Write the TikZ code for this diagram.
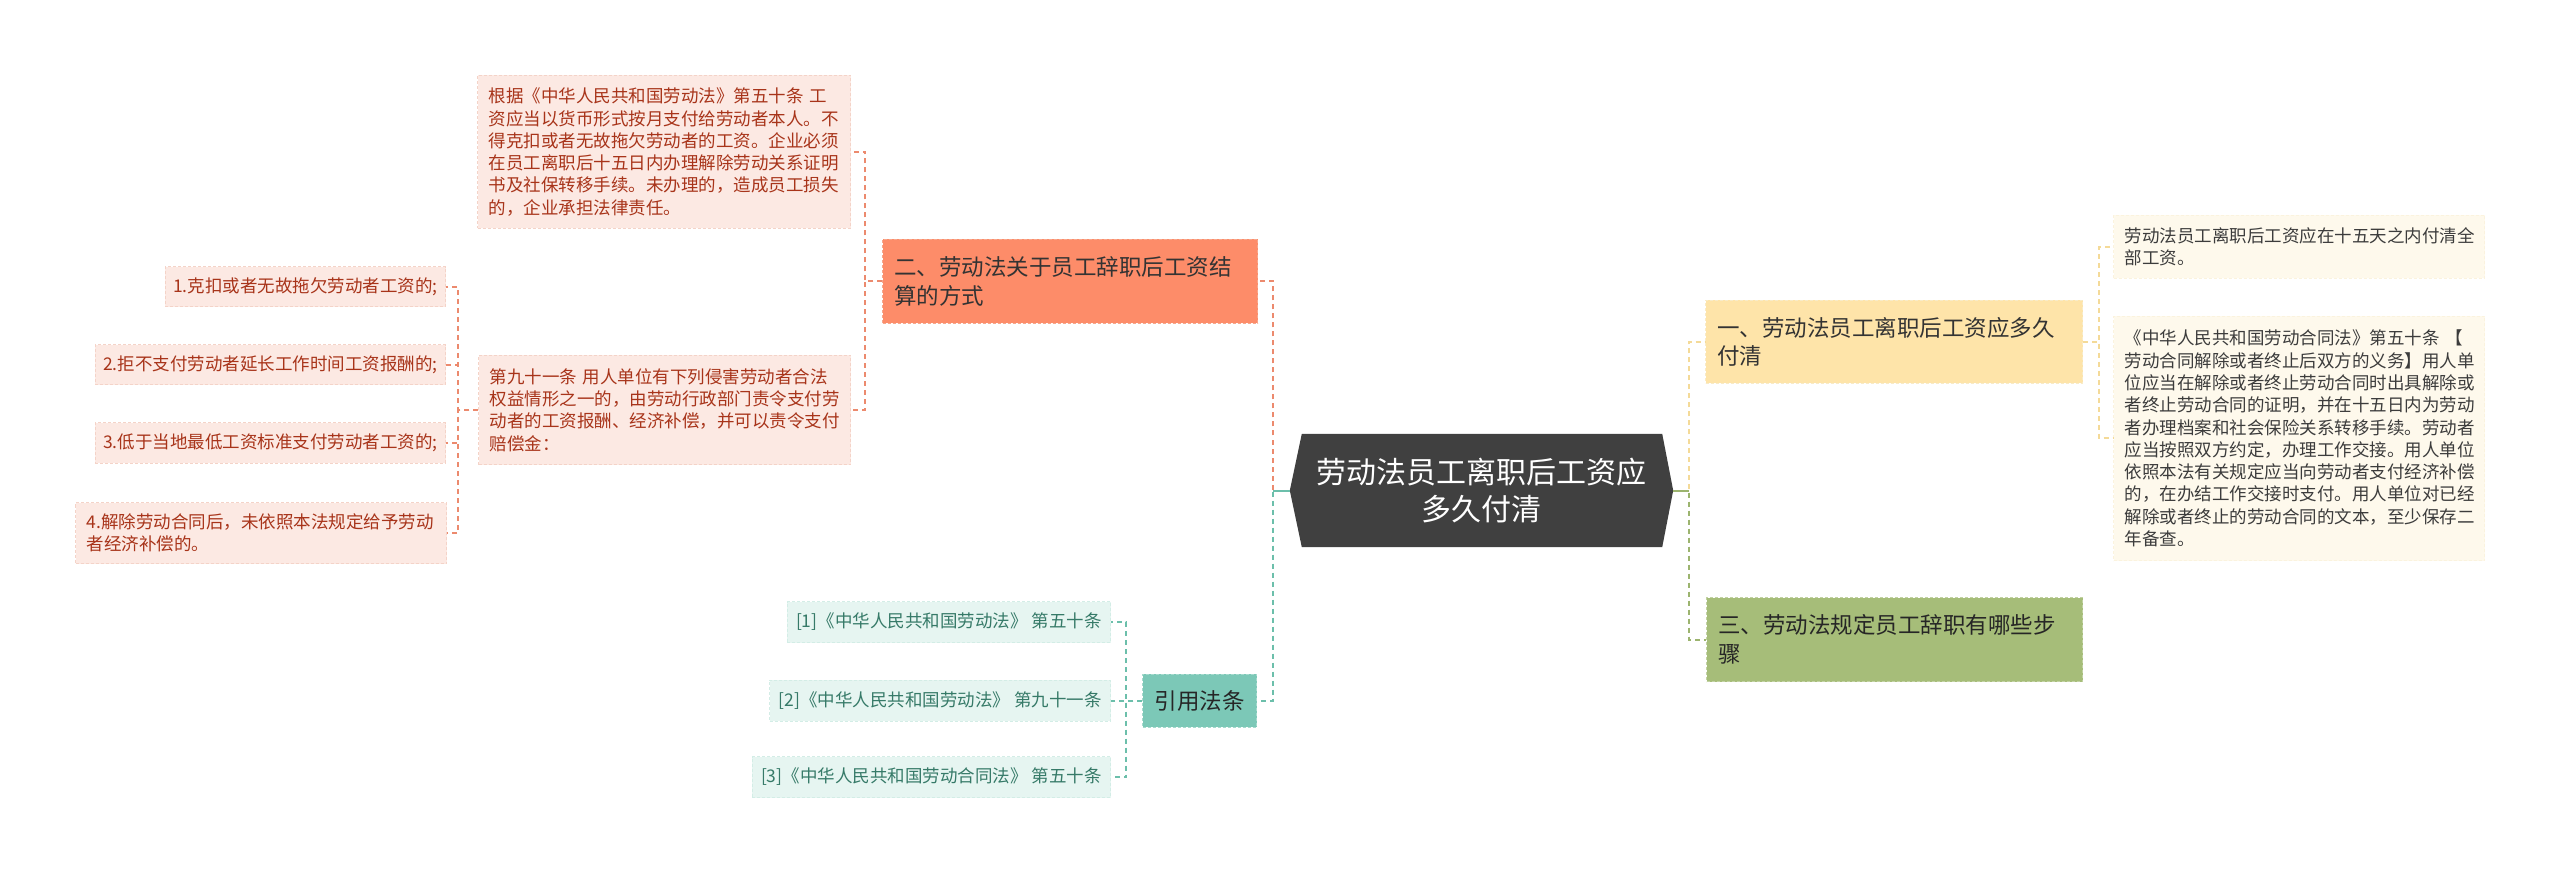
\documentclass[tikz,border=0pt]{standalone}
\usepackage{fontspec}
\setmainfont{Noto Sans CJK SC}
\usetikzlibrary{calc}
\pgfdeclarelayer{bg}
\pgfsetlayers{bg,main}
\definecolor{pinkfill}{HTML}{FCE9E3}
\definecolor{pinkedge}{HTML}{F4D3C8}
\definecolor{pinktext}{HTML}{A8341A}
\definecolor{orangefill}{HTML}{FD8C69}
\definecolor{orangeedge}{HTML}{F6A78D}
\definecolor{orangeline}{HTML}{EC8A6E}
\definecolor{yellowfill}{HTML}{FEE4A9}
\definecolor{yellowedge}{HTML}{F8EBC8}
\definecolor{yellowline}{HTML}{F4DA98}
\definecolor{creamfill}{HTML}{FEF9EC}
\definecolor{creamedge}{HTML}{FBF3DE}
\definecolor{creamtext}{HTML}{3C3C3C}
\definecolor{greenfill}{HTML}{A6BD79}
\definecolor{greenedge}{HTML}{C2D2A3}
\definecolor{greenline}{HTML}{9CB46F}
\definecolor{tealfill}{HTML}{7CC8B7}
\definecolor{tealedge}{HTML}{A6DACD}
\definecolor{tealline}{HTML}{6CBFAB}
\definecolor{citefill}{HTML}{E6F5F1}
\definecolor{citeedge}{HTML}{D3EDE6}
\definecolor{citetext}{HTML}{367A68}
\definecolor{rootfill}{HTML}{404040}
\newcommand{\smallfnt}{\fontsize{17.5}{22.3}\selectfont}
\newcommand{\headfnt}{\fontsize{22.5}{28.5}\selectfont}
\newcommand{\rootfnt}{\fontsize{30}{37}\selectfont}
\tikzset{
  boxbase/.style={line width=1pt, dash pattern=on 3pt off 2pt, inner ysep=0pt},
  sized/.style n args={3}{minimum width=#1pt, minimum height=#2pt, text width=#3pt, anchor=north west, align=left},
  pinkbox/.style={boxbase, draw=pinkedge, fill=pinkfill, text=pinktext, font=\smallfnt, inner xsep=11pt},
  creambox/.style={boxbase, draw=creamedge, fill=creamfill, text=creamtext, font=\smallfnt, inner xsep=11pt},
  citebox/.style={boxbase, draw=citeedge, fill=citefill, text=citetext, font=\smallfnt, inner xsep=9pt, minimum height=41pt, anchor=east},
  itembox/.style={pinkbox, inner xsep=8pt, minimum height=40pt, anchor=east},
  headbox/.style={boxbase, font=\headfnt, inner xsep=11.5pt},
  link/.style={dash pattern=on 5pt off 4pt, line width=2pt},
  stub/.style={line width=2pt}
}
\begin{document}
\begin{tikzpicture}[x=1pt,y=-1pt]
\useasboundingbox (0,0) rectangle (2560,874);

% root
\node[font=\rootfnt, text=white, align=center, minimum width=383pt, minimum height=113pt, inner sep=0pt] (root) at (1481.5,490.5) {劳动法员工离职后工资应\\多久付清};
\begin{pgfonlayer}{bg}
\fill[white] (0,0) rectangle (2560,874);
\fill[rootfill] (root.west) -- ([xshift=12pt]root.north west) -- ([xshift=-11pt]root.north east) -- (root.east) -- ([xshift=-11pt]root.south east) -- ([xshift=12pt]root.south west) -- cycle;
\end{pgfonlayer}

% left branch 二
\node[headbox, draw=orangeedge, fill=orangefill, text=black!80, sized={375}{84}{352}] (n2) at (882,239) {二、劳动法关于员工辞职后工资结\\算的方式};
\node[pinkbox, sized={373}{153}{351}] (top) at (477,75) {根据《中华人民共和国劳动法》第五十条 工\\资应当以货币形式按月支付给劳动者本人。不\\得克扣或者无故拖欠劳动者的工资。企业必须\\在员工离职后十五日内办理解除劳动关系证明\\书及社保转移手续。未办理的，造成员工损失\\的，企业承担法律责任。};
\node[pinkbox, sized={372}{109}{350}] (n91) at (478,355) {第九十一条 用人单位有下列侵害劳动者合法\\权益情形之一的，由劳动行政部门责令支付劳\\动者的工资报酬、经济补偿，并可以责令支付\\赔偿金：};
\node[itembox] (i1) at (446,287) {1.克扣或者无故拖欠劳动者工资的;};
\node[itembox] (i2) at (446,365) {2.拒不支付劳动者延长工作时间工资报酬的;};
\node[itembox] (i3) at (446,443) {3.低于当地最低工资标准支付劳动者工资的;};
\node[pinkbox, sized={371}{61}{349}] (i4) at (75,502) {4.解除劳动合同后，未依照本法规定给予劳动\\者经济补偿的。};

% left branch 引用法条
\node[headbox, draw=tealedge, fill=tealfill, text=black!85, minimum height=53pt, inner xsep=12pt, anchor=east] (cite) at (1257,700.5) {引用法条};
\node[citebox] (c1) at (1111,622) {[1]《中华人民共和国劳动法》 第五十条};
\node[citebox] (c2) at (1111,700.5) {[2]《中华人民共和国劳动法》 第九十一条};
\node[citebox] (c3) at (1111,777) {[3]《中华人民共和国劳动合同法》 第五十条};

% right branch 一
\node[headbox, draw=yellowedge, fill=yellowfill, text=black!80, sized={377}{83}{354}] (n1) at (1705,300) {一、劳动法员工离职后工资应多久\\付清};
\node[creambox, sized={371}{63}{349}] (ca) at (2113,215) {劳动法员工离职后工资应在十五天之内付清全\\部工资。};
\node[creambox, sized={371}{244}{349}] (cb) at (2113,316) {《中华人民共和国劳动合同法》第五十条 【\\劳动合同解除或者终止后双方的义务】用人单\\位应当在解除或者终止劳动合同时出具解除或\\者终止劳动合同的证明，并在十五日内为劳动\\者办理档案和社会保险关系转移手续。劳动者\\应当按照双方约定，办理工作交接。用人单位\\依照本法有关规定应当向劳动者支付经济补偿\\的，在办结工作交接时支付。用人单位对已经\\解除或者终止的劳动合同的文本，至少保存二\\年备查。};

% right branch 三
\node[headbox, draw=greenedge, fill=greenfill, text=black!85, sized={376}{84}{353}] (n3) at (1706,597) {三、劳动法规定员工辞职有哪些步\\骤};

% connectors
\draw[link, orangeline] (root.west) -- ++(-17,0) |- (n2.east);
\draw[link, tealline] (root.west) -- ++(-17,0) |- (cite.east);
\draw[stub, tealline] (root.west) -- ++(-17,0);
\draw[link, orangeline] (n2.west) -- ++(-17,0) |- (top.east);
\draw[link, orangeline] (n2.west) -- ++(-17,0) |- (n91.east);
\foreach \t in {i1,i2,i3,i4} \draw[link, orangeline] (n91.west) -- ++(-20,0) |- (\t.east);
\foreach \t in {c1,c2,c3} \draw[link, tealline] (cite.west) -- ++(-16,0) |- (\t.east);
\draw[link, yellowline] (root.east) -- ++(16,0) |- (n1.west);
\draw[link, greenline] (root.east) -- ++(16,0) |- (n3.west);
\draw[stub, greenline] (root.east) -- ++(16,0);
\foreach \t in {ca,cb} \draw[link, yellowline] (n1.east) -- ++(16,0) |- (\t.west);
\end{tikzpicture}
\end{document}
